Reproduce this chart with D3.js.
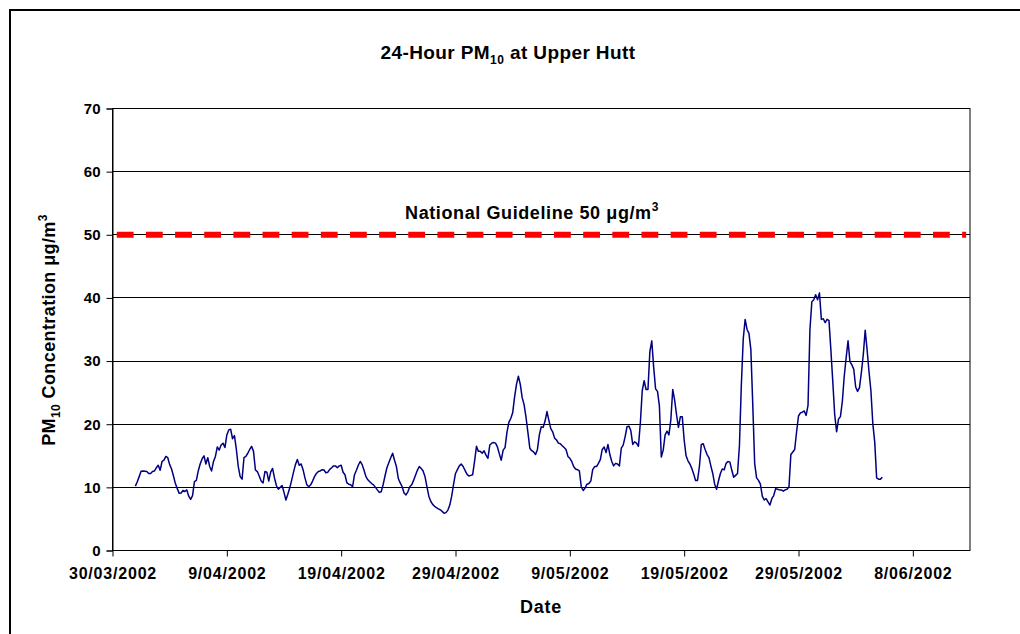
<!DOCTYPE html>
<html>
<head>
<meta charset="utf-8">
<script src="https://cdn.jsdelivr.net/npm/d3@7"></script>
<style>
  body { margin: 0; background: #fff; }
  svg { display: block; font-family: Arial, "Liberation Sans", sans-serif; }
</style>
</head>
<body>
<svg id="chart" width="1020" height="634"></svg>
<script>
// 24-hour running mean PM10, one reading every 4 hours from 1/04/2002 00:00
const seriesStart = new Date(2002, 3, 1, 0);
const stepHours = 4;
const pm10 = [
  10.2, 10.9, 11.7, 12.55, 12.6, 12.55, 12.5, 12.2, 12.2, 12.5, 12.6, 13.1, 13.5, 12.7, 14.1, 14.3,
  14.9, 14.7, 13.6, 12.9, 11.8, 10.6, 9.8, 9.05, 9.1, 9.5, 9.35, 9.6, 8.6, 8.1, 8.7, 10.9,
  11.1, 12.6, 13.7, 14.5, 15.0, 13.7, 14.7, 13.3, 12.6, 14.1, 14.9, 16.4, 15.9, 16.7, 17.0, 16.3,
  18.3, 19.1, 19.2, 17.7, 18.2, 16.0, 13.3, 11.7, 11.3, 14.7, 14.9, 15.4, 16.0, 16.5, 15.7, 12.75,
  12.5, 11.8, 11.0, 10.7, 12.5, 12.4, 11.0, 12.4, 13.0, 11.5, 10.3, 9.7, 10.0, 10.3, 9.2, 8.0,
  8.9, 9.9, 11.1, 12.4, 13.6, 14.4, 13.5, 13.7, 12.8, 11.5, 10.4, 10.1, 10.4, 11.0, 11.7, 12.2,
  12.5, 12.6, 12.8, 12.75, 12.3, 12.4, 12.85, 13.1, 13.4, 13.4, 13.1, 13.4, 13.5, 12.4, 12.0, 10.7,
  10.5, 10.4, 10.1, 12.0, 12.7, 13.5, 14.1, 13.6, 12.7, 11.7, 11.2, 10.9, 10.6, 10.4, 10.0, 9.6,
  9.2, 9.3, 10.4, 11.8, 13.1, 13.9, 14.7, 15.4, 14.3, 13.3, 11.4, 10.7, 10.1, 9.1, 8.8, 9.3,
  10.1, 10.4, 11.1, 11.9, 12.7, 13.3, 13.0, 12.6, 11.7, 10.1, 8.6, 7.8, 7.3, 7.0, 6.8, 6.6,
  6.45, 6.2, 5.9, 6.0, 6.4, 7.2, 8.6, 10.5, 12.2, 12.8, 13.4, 13.7, 13.3, 12.7, 12.1, 11.8,
  11.9, 12.0, 14.1, 16.5, 15.7, 15.7, 15.4, 15.8, 15.1, 14.6, 16.7, 17.0, 17.1, 17.0, 16.4, 15.3,
  14.3, 15.9, 16.3, 18.7, 20.3, 20.9, 21.8, 24.3, 26.3, 27.6, 26.3, 24.2, 23.1, 21.1, 18.7, 16.2,
  15.8, 15.6, 15.2, 16.0, 18.3, 19.6, 19.5, 20.5, 22.0, 20.6, 19.3, 18.8, 17.8, 17.5, 17.0, 16.9,
  16.6, 16.3, 16.0, 14.9, 14.6, 14.1, 13.3, 12.9, 12.8, 12.6, 10.1, 9.5, 9.9, 10.5, 10.6, 11.0,
  12.8, 13.3, 13.3, 13.8, 14.4, 16.0, 16.4, 15.5, 16.8, 15.2, 14.1, 13.4, 13.8, 13.7, 13.4, 16.2,
  16.7, 18.0, 19.6, 19.7, 19.0, 16.8, 17.2, 17.0, 16.5, 20.2, 25.3, 26.9, 25.5, 25.5, 31.5, 33.2,
  29.0, 25.6, 25.2, 22.9, 14.8, 15.9, 18.3, 18.9, 18.3, 20.7, 25.5, 23.8, 21.5, 19.5, 21.2, 21.2,
  17.5, 15.0, 14.2, 13.7, 13.0, 12.1, 11.1, 11.1, 13.3, 16.8, 16.9, 16.0, 15.2, 14.7, 13.4, 12.2,
  10.5, 9.7, 11.0, 12.2, 12.9, 12.8, 13.8, 14.1, 14.0, 12.7, 11.6, 11.9, 12.2, 16.6, 26.2, 33.5,
  36.6, 35.0, 34.4, 31.8, 23.1, 13.8, 11.5, 11.1, 10.5, 8.6, 8.0, 8.2, 7.7, 7.2, 8.2, 8.7,
  9.8, 9.7, 9.6, 9.6, 9.4, 9.6, 9.7, 10.1, 15.2, 15.6, 16.0, 18.8, 21.3, 21.8, 21.9, 22.1,
  21.4, 23.0, 35.0, 39.4, 39.7, 40.5, 39.7, 40.8, 36.6, 36.7, 36.1, 36.6, 36.4, 31.7, 26.7, 21.5,
  18.8, 20.8, 21.2, 23.6, 27.6, 30.5, 33.2, 29.9, 29.4, 28.7, 25.9, 25.2, 25.8, 28.2, 31.0, 34.9,
  31.8, 28.3, 25.3, 20.1, 17.2, 11.5, 11.3, 11.3, 11.6
];

// National guideline series
const guidelineValue = 50;
const guidelineDates = [new Date(2002, 2, 30, 9), new Date(2002, 5, 12, 16)];

// axes
const xDomain = [new Date(2002, 2, 30), new Date(2002, 5, 13)];
const xTickDates = [
  new Date(2002, 2, 30), new Date(2002, 3, 9), new Date(2002, 3, 19), new Date(2002, 3, 29),
  new Date(2002, 4, 9), new Date(2002, 4, 19), new Date(2002, 4, 29), new Date(2002, 5, 8)
];
const yTicks = [0, 10, 20, 30, 40, 50, 60, 70];

const svg = d3.select('#chart');
const W = 1020, H = 634;
const plot = { left: 112.5, right: 970, top: 108.5, bottom: 550.5 };

const x = d3.scaleTime().domain(xDomain).range([plot.left, plot.right]);
const y = d3.scaleLinear().domain([0, 70]).range([plot.bottom, plot.top]);

// outer chart frame
svg.append('rect')
  .attr('x', 10).attr('y', 10)
  .attr('width', W).attr('height', H)
  .attr('fill', '#fff').attr('stroke', '#000').attr('stroke-width', 2);

// plot area
svg.append('rect')
  .attr('x', plot.left).attr('y', plot.top)
  .attr('width', plot.right - plot.left).attr('height', plot.bottom - plot.top)
  .attr('fill', '#fff').attr('stroke', '#000').attr('stroke-width', 1);

// gridlines
svg.append('g')
  .selectAll('line')
  .data(yTicks.filter(d => d > 0 && d < 70))
  .enter().append('line')
  .attr('x1', plot.left).attr('x2', plot.right)
  .attr('y1', d => y(d)).attr('y2', d => y(d))
  .attr('stroke', '#000').attr('stroke-width', 1)
  .attr('shape-rendering', 'crispEdges');

// y axis
const yAxis = svg.append('g')
  .attr('transform', `translate(${plot.left},0)`)
  .call(d3.axisLeft(y).tickValues(yTicks).tickSize(6).tickPadding(6));
yAxis.select('.domain').attr('stroke', '#000');
yAxis.selectAll('text')
  .attr('font-size', 15).attr('font-weight', 'bold').attr('fill', '#000')
  .attr('font-family', 'Arial, "Liberation Sans", sans-serif');

// x axis
const fmt = d3.timeFormat('%-d/%m/%Y');
const xAxis = svg.append('g')
  .attr('transform', `translate(0,${plot.bottom})`)
  .call(d3.axisBottom(x).tickValues(xTickDates).tickFormat(fmt).tickSize(6).tickPadding(11));
xAxis.select('.domain').attr('stroke', '#000').attr('d', `M${plot.left},0H${plot.right}`);
xAxis.selectAll('text')
  .attr('font-size', 16).attr('font-weight', 'bold').attr('fill', '#000')
  .attr('letter-spacing', 0.8)
  .attr('font-family', 'Arial, "Liberation Sans", sans-serif');

// guideline (red dashes over grey line)
const line = d3.line().x(d => x(d.date)).y(d => y(d.value));
svg.append('path')
  .datum(guidelineDates.map(d => ({ date: d, value: guidelineValue })))
  .attr('d', line)
  .attr('fill', 'none')
  .attr('stroke', '#ff0000')
  .attr('stroke-width', 6)
  .attr('stroke-dasharray', '16.8,12.35');

// PM10 series
const series = pm10.map((v, i) => ({
  date: new Date(seriesStart.getTime() + i * stepHours * 3600 * 1000),
  value: v
}));
svg.append('path')
  .datum(series)
  .attr('d', line)
  .attr('fill', 'none')
  .attr('stroke', '#000080')
  .attr('stroke-width', 1.5)
  .attr('stroke-linejoin', 'round');

// title
const title = svg.append('text')
  .attr('x', 508).attr('y', 59)
  .attr('text-anchor', 'middle')
  .attr('font-size', 19).attr('font-weight', 'bold')
  .attr('letter-spacing', 0.4);
title.append('tspan').text('24-Hour PM');
title.append('tspan').attr('font-size', 12).attr('dy', 5).text('10');
title.append('tspan').attr('dy', -5).text(' at Upper Hutt');

// guideline label
const glab = svg.append('text')
  .attr('x', 532).attr('y', 219)
  .attr('text-anchor', 'middle')
  .attr('font-size', 18).attr('font-weight', 'bold')
  .attr('letter-spacing', 0.6);
glab.append('tspan').text('National Guideline 50 μg/m');
glab.append('tspan').attr('font-size', 12).attr('dy', -8).text('3');

// axis titles
svg.append('text')
  .attr('x', 541).attr('y', 613)
  .attr('text-anchor', 'middle')
  .attr('font-size', 18).attr('font-weight', 'bold')
  .attr('letter-spacing', 0.8)
  .text('Date');

const ylab = svg.append('text')
  .attr('transform', 'translate(55,330) rotate(-90)')
  .attr('text-anchor', 'middle')
  .attr('font-size', 18).attr('font-weight', 'bold')
  .attr('letter-spacing', 0.4);
ylab.append('tspan').text('PM');
ylab.append('tspan').attr('font-size', 12).attr('dy', 5).text('10');
ylab.append('tspan').attr('dy', -5).text(' Concentration μg/m');
ylab.append('tspan').attr('font-size', 12).attr('dy', -8).text('3');
</script>
</body>
</html>
